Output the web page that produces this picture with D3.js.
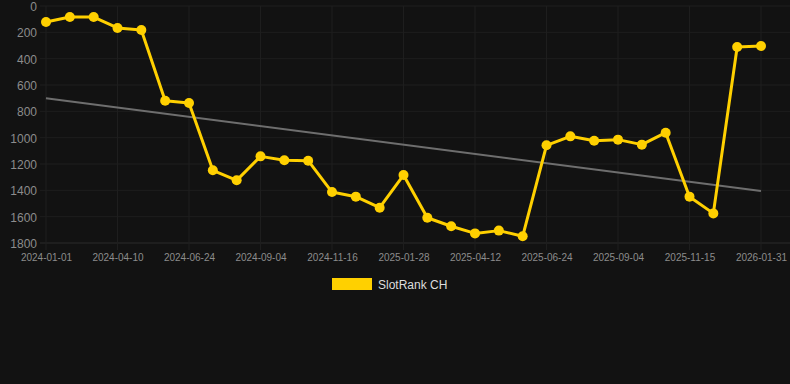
<!DOCTYPE html>
<html>
<head>
<meta charset="utf-8">
<script src="https://cdn.jsdelivr.net/npm/d3@7"></script>
<style>
  html, body { margin: 0; padding: 0; background: #121212; }
  svg { display: block; font-family: "Liberation Sans", Arial, sans-serif; }
</style>
</head>
<body>
<div id="graph"></div>
<script>
// dates (one every ~25 days), only every 3rd shown on the axis
var dates = ["2024-01-01","2024-01-26","2024-02-19","2024-04-10","2024-05-05","2024-05-30",
    "2024-06-24","2024-07-18","2024-08-11","2024-09-04","2024-09-28","2024-10-22",
    "2024-11-16","2024-12-10","2025-01-03","2025-01-28","2025-02-21","2025-03-18",
    "2025-04-12","2025-05-06","2025-05-30","2025-06-24","2025-07-18","2025-08-11",
    "2025-09-04","2025-09-28","2025-10-22","2025-11-15","2025-12-11","2026-01-06","2026-01-31"];
var ranks = [121, 84, 84, 167, 182, 720, 737, 1248, 1324, 1142, 1172, 1175, 1413, 1448, 1532,
    1284, 1608, 1673, 1727, 1706, 1749, 1058, 990, 1023, 1015, 1053, 962, 1448, 1575, 311, 304];
var trend = [700, 1405];
var yTicks = [0, 200, 400, 600, 800, 1000, 1200, 1400, 1600, 1800];
var seriesName = "SlotRank CH";

var W = 790, H = 384;
var plot = {left: 40, right: 790, top: 6, bottom: 243};

var svg = d3.select("#graph")
    .append("svg")
    .attr("width", W)
    .attr("height", H);

svg.append("rect").attr("width", W).attr("height", H).attr("fill", "#121212");

var xScale = d3.scalePoint()
    .domain(dates)
    .range([46, 761]);
var yScale = d3.scaleLinear()
    .domain([0, 1800])
    .range([plot.top, plot.bottom]);

var shown = dates.filter(function(d, i) { return i % 3 == 0; });

// grid lines
svg.append("g").selectAll("line")
    .data(yTicks)
    .enter().append("line")
    .attr("x1", plot.left).attr("x2", plot.right)
    .attr("y1", function(d) { return yScale(d); })
    .attr("y2", function(d) { return yScale(d); })
    .attr("stroke", function(d) { return d == 1800 ? "#2a2a2a" : "#1e1e1e"; })
    .attr("stroke-width", 1);
svg.append("g").selectAll("line")
    .data(shown)
    .enter().append("line")
    .attr("x1", function(d) { return xScale(d); })
    .attr("x2", function(d) { return xScale(d); })
    .attr("y1", plot.top).attr("y2", plot.bottom + 7)
    .attr("stroke", "#1e1e1e").attr("stroke-width", 1);

// y axis
var yaxis = d3.axisLeft(yScale).tickValues(yTicks).tickFormat(d3.format("d")).tickSize(0).tickPadding(0);
var gy = svg.append("g")
    .attr("transform", "translate(37,0.5)")
    .call(yaxis);
gy.select(".domain").remove();
gy.selectAll("text").attr("fill", "#8c8c8c").style("font-size", "12px");

// x axis
var xaxis = d3.axisBottom(xScale).tickValues(shown).tickSize(0).tickPadding(0);
var gx = svg.append("g")
    .attr("transform", "translate(0,254)")
    .call(xaxis);
gx.select(".domain").remove();
gx.selectAll("text").attr("fill", "#8c8c8c").style("font-size", "10px");

// trend line
svg.append("line")
    .attr("x1", xScale(dates[0])).attr("y1", yScale(trend[0]))
    .attr("x2", xScale(dates[dates.length - 1])).attr("y2", yScale(trend[1]))
    .attr("stroke", "#6e6e6e").attr("stroke-width", 2);

// series
var line = d3.line()
    .x(function(d, i) { return xScale(dates[i]); })
    .y(function(d) { return yScale(d); });
svg.append("path")
    .datum(ranks)
    .attr("d", line)
    .attr("fill", "none")
    .attr("stroke", "#ffd000")
    .attr("stroke-width", 3)
    .attr("stroke-linejoin", "round");
svg.append("g").selectAll("circle")
    .data(ranks)
    .enter().append("circle")
    .attr("cx", function(d, i) { return xScale(dates[i]); })
    .attr("cy", function(d) { return yScale(d); })
    .attr("r", 5)
    .attr("fill", "#ffd000");

// legend
svg.append("rect")
    .attr("x", 332).attr("y", 278)
    .attr("width", 40).attr("height", 12)
    .attr("fill", "#ffd000");
svg.append("text")
    .attr("x", 378).attr("y", 289)
    .attr("fill", "#dddddd")
    .style("font-size", "12px")
    .text(seriesName);
</script>
</body>
</html>
